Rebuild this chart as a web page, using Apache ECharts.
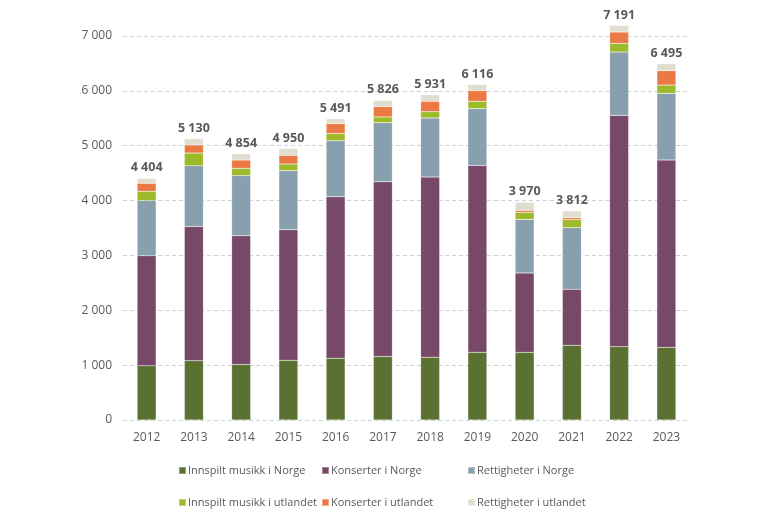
<!DOCTYPE html>
<html><head><meta charset="utf-8">
<script src="https://cdn.jsdelivr.net/npm/echarts@6/dist/echarts.min.js"></script>
<style>html,body{margin:0;padding:0;background:#fff}#c{width:768px;height:520px}</style>
</head><body><div id="c"></div>
<script>
const years = ['2012','2013','2014','2015','2016','2017','2018','2019','2020','2021','2022','2023'];
const seriesNames = ['Innspilt musikk i Norge','Konserter i Norge','Rettigheter i Norge','Innspilt musikk i utlandet','Konserter i utlandet','Rettigheter i utlandet'];
const innspiltNorge   = [990, 1080, 1012, 1091, 1127, 1157, 1145, 1236, 1233, 1361, 1337, 1324];
const konserterNorge  = [2005, 2447, 2346, 2376, 2941, 3185, 3283, 3405, 1446, 1021, 4216, 3415];
const rettigheterNorge= [1005, 1106, 1097, 1078, 1023, 1078, 1078, 1035, 978, 1123, 1154, 1215];
const innspiltUtland  = [170, 234, 133, 122, 134, 104, 115, 134, 128, 146, 158, 152];
const konserterUtland = [145, 146, 151, 157, 177, 189, 189, 195, 36, 37, 207, 261];
const rettigheterUtland=[89, 117, 115, 126, 89, 113, 121, 111, 149, 124, 119, 128];
const totals = [4404, 5130, 4854, 4950, 5491, 5826, 5931, 6116, 3970, 3812, 7191, 6495];
const yTicks = [0, 1000, 2000, 3000, 4000, 5000, 6000, 7000];

const colors = ['#5b7131','#774868','#889fae','#9dba2a','#eb7944','#e1ddcf'];
const dataSets = [innspiltNorge, konserterNorge, rettigheterNorge, innspiltUtland, konserterUtland, rettigheterUtland];
const fmt = v => String(v).replace(/\B(?=(\d{3})+(?!\d))/g, ' ');
const font = 'Open Sans, Liberation Sans, sans-serif';

const series = dataSets.map((d, i) => ({
  name: seriesNames[i], type: 'bar', stack: 'a', data: d, barWidth: 19, clip: false,
  itemStyle: { color: colors[i], borderColor: 'rgba(255,255,255,0.35)', borderWidth: 0.5 },
  label: i === 5 ? { show: true, position: 'top', distance: 4, color: '#595959', fontWeight: 'bold', fontSize: 12.5, fontFamily: font,
    formatter: p => fmt(totals[p.dataIndex]) } : { show: false }
}));

const legendPos = [[178,465],[321,465],[467,465],[178,497],[321,497],[467,497]];
const legends = seriesNames.map((n, i) => ({
  data: [n], left: legendPos[i][0], top: legendPos[i][1], icon: 'rect', itemWidth: 7, itemHeight: 7, itemGap: 2,
  textStyle: { color: '#595959', fontSize: 11, fontFamily: font, padding: [0,0,0,-3] }, padding: 0, selectedMode: false
}));

const chart = echarts.init(document.getElementById('c'));
chart.setOption({
  animation: false,
  color: colors,
  grid: { left: 123, right: 78, top: 36, bottom: 100 },
  legend: legends,
  xAxis: { type: 'category', data: years, axisLine: { show: false }, axisTick: { show: false },
    axisLabel: { color: '#595959', fontSize: 12, fontFamily: font, margin: 12 } },
  yAxis: { type: 'value', min: yTicks[0], max: yTicks[yTicks.length-1], interval: 1000,
    axisLabel: { color: '#595959', fontSize: 12, fontFamily: font, margin: 11, formatter: v => fmt(v) },
    splitLine: { lineStyle: { color: '#c9d1d9', type: [4, 3], width: 1 } },
    axisLine: { show: false }, axisTick: { show: false } },
  series: series
});
</script></body></html>
